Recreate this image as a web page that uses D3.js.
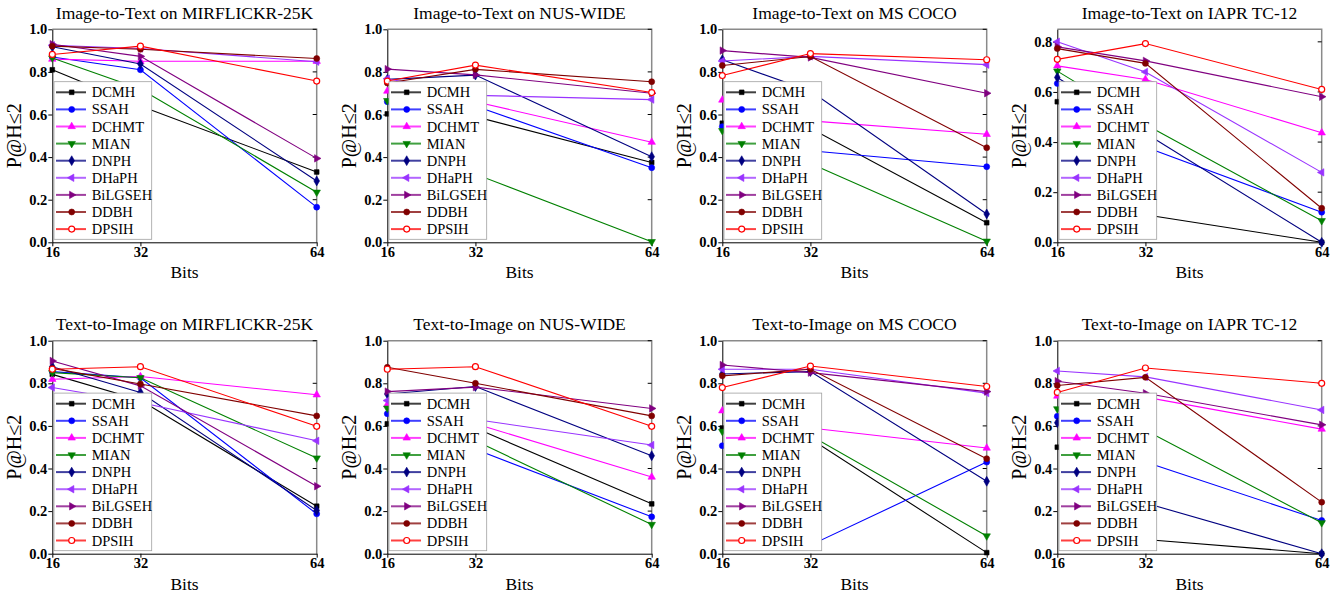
<!DOCTYPE html>
<html>
<head>
<meta charset="utf-8">
<script src="https://cdnjs.cloudflare.com/ajax/libs/d3/7.8.5/d3.min.js"></script>
<style>
  body { margin: 0; background: #fff; }
  svg { display: block; font-family: "Liberation Serif", "Times New Roman", serif; }
  .axis text { font-family: "Liberation Serif", serif; font-weight: bold; font-size: 14.5px; fill: #000; }
  .axis path, .axis line { stroke: #000; }
</style>
</head>
<body>
<svg id="chart" width="1340" height="597"></svg>
<script>
const bits = [16, 32, 64];
const methods = ["DCMH", "SSAH", "DCHMT", "MIAN", "DNPH", "DHaPH", "BiLGSEH", "DDBH", "DPSIH"];
const colors = ["#000000", "#0000ff", "#ff00ff", "#008000", "#000080", "#9933ff", "#800080", "#800000", "#ff0000"];
const yTicks = [0, 0.2, 0.4, 0.6, 0.8, 1.0];
const yTicksIapr = [0, 0.2, 0.4, 0.6, 0.8];

// P@H<=2 per method (rows follow methods, columns follow bits)
const i2tMirflickr = [
  [0.81, 0.64, 0.33], [0.87, 0.81, 0.165], [0.86, 0.85, 0.85], [0.865, 0.72, 0.235],
  [0.918, 0.837, 0.288], [0.925, 0.91, 0.848], [0.93, 0.873, 0.394], [0.921, 0.906, 0.863],
  [0.882, 0.921, 0.757]
];
const i2tNuswide = [
  [0.603, 0.59, 0.375], [0.66, 0.64, 0.35], [0.71, 0.66, 0.47], [0.665, 0.32, 0.003],
  [0.765, 0.785, 0.402], [0.768, 0.69, 0.67], [0.813, 0.786, 0.70], [0.748, 0.812, 0.754],
  [0.757, 0.832, 0.703]
];
const i2tCoco = [
  [0.559, 0.535, 0.092], [0.543, 0.43, 0.355], [0.668, 0.57, 0.507], [0.524, 0.37, 0.005],
  [0.857, 0.71, 0.133], [0.851, 0.873, 0.834], [0.90, 0.868, 0.70], [0.83, 0.872, 0.444],
  [0.783, 0.886, 0.857]
];
const i2tIapr = [
  [0.561, 0.11, 0.0], [0.634, 0.38, 0.12], [0.704, 0.65, 0.437], [0.683, 0.47, 0.086],
  [0.658, 0.435, 0.0], [0.80, 0.68, 0.279], [0.78, 0.724, 0.581], [0.773, 0.714, 0.136],
  [0.73, 0.793, 0.61]
];
const t2iMirflickr = [
  [0.842, 0.72, 0.223], [0.855, 0.826, 0.187], [0.819, 0.832, 0.746], [0.85, 0.826, 0.449],
  [0.878, 0.757, 0.203], [0.78, 0.71, 0.53], [0.905, 0.788, 0.317], [0.87, 0.797, 0.647],
  [0.866, 0.878, 0.598]
];
const t2iNuswide = [
  [0.61, 0.59, 0.234], [0.657, 0.49, 0.173], [0.70, 0.61, 0.36], [0.683, 0.53, 0.137],
  [0.75, 0.785, 0.46], [0.719, 0.63, 0.51], [0.761, 0.782, 0.682], [0.875, 0.80, 0.647],
  [0.866, 0.878, 0.598]
];
const t2iCoco = [
  [0.59, 0.54, 0.005], [0.507, 0.04, 0.43], [0.671, 0.59, 0.496], [0.574, 0.555, 0.083],
  [0.844, 0.855, 0.34], [0.866, 0.866, 0.754], [0.886, 0.85, 0.761], [0.835, 0.866, 0.446],
  [0.78, 0.881, 0.785]
];
const t2iIapr = [
  [0.5, 0.067, 0.0], [0.645, 0.43, 0.156], [0.74, 0.735, 0.585], [0.68, 0.58, 0.145],
  [0.615, 0.238, 0.0], [0.858, 0.83, 0.675], [0.81, 0.753, 0.605], [0.79, 0.828, 0.242],
  [0.757, 0.872, 0.80]
];

const titles = [
  "Image-to-Text on MIRFLICKR-25K", "Image-to-Text on NUS-WIDE", "Image-to-Text on MS COCO", "Image-to-Text on IAPR TC-12",
  "Text-to-Image on MIRFLICKR-25K", "Text-to-Image on NUS-WIDE", "Text-to-Image on MS COCO", "Text-to-Image on IAPR TC-12"
];
const panelData = [i2tMirflickr, i2tNuswide, i2tCoco, i2tIapr, t2iMirflickr, t2iNuswide, t2iCoco, t2iIapr];
const panelMax = [1.0, 1.0, 1.0, 0.85, 1.0, 1.0, 1.0, 1.0];

// marker shape + rotation for each method
const markers = [
  [d3.symbolSquare, 0, 22], [d3.symbolCircle, 0, 28], [d3.symbolTriangle, 0, 24],
  [d3.symbolTriangle, 180, 24], [d3.symbolDiamond, 0, 28], [d3.symbolTriangle, -90, 24],
  [d3.symbolTriangle, 90, 24], [d3.symbolCircle, 0, 28], [d3.symbolCircle, 0, 28]
];

const svg = d3.select("#chart");
const W = 264.4, H = 213;

panelData.forEach((data, i) => {
  drawPanel(i % 4, Math.floor(i / 4), titles[i], data, panelMax[i], panelMax[i] < 1 ? yTicksIapr : yTicks);
});

function addMarker(sel, m, px, py, color, hollow) {
  sel.append("path")
    .attr("d", d3.symbol().type(markers[m][0]).size(markers[m][2])())
    .attr("transform", `translate(${px},${py}) rotate(${markers[m][1]})`)
    .attr("fill", hollow ? "#fff" : color)
    .attr("stroke", color)
    .attr("stroke-width", hollow ? 1.2 : 0.6);
}

function drawPanel(col, row, title, data, ymax, ticks) {
  let left = 52.3 + col * 335;
  let top = 29.3 + row * 311.4;
  let g = svg.append("g").attr("transform", `translate(${left},${top})`);

  let x = d3.scaleLinear().domain([16, 64]).range([0, W]);
  let y = d3.scaleLinear().domain([0, ymax]).range([H, 0]);

  // grey top/right frame with inner ticks
  g.append("path")
    .attr("d", `M0,0H${W}V${H}`)
    .attr("fill", "none")
    .attr("stroke", "#8a8a8a")
    .attr("stroke-width", 1.5);
  g.selectAll(".rtick").data(ticks.slice(1)).join("line")
    .attr("x1", W).attr("x2", W - 4)
    .attr("y1", d => y(d)).attr("y2", d => y(d))
    .attr("stroke", "#000");

  g.append("g").attr("class", "axis")
    .attr("transform", `translate(0,${H})`)
    .call(d3.axisBottom(x).tickValues(bits).tickSize(4).tickSizeOuter(0).tickPadding(0).tickFormat(d3.format("d")));
  g.append("g").attr("class", "axis")
    .call(d3.axisLeft(y).tickValues(ticks).tickSize(4).tickSizeOuter(0).tickPadding(1).tickFormat(d3.format(".1f")));

  let line = d3.line()
    .x((d, i) => x(bits[i]))
    .y(d => y(d));

  data.forEach((vals, m) => {
    g.append("path")
      .datum(vals)
      .attr("d", line)
      .attr("fill", "none")
      .attr("stroke", colors[m])
      .attr("stroke-width", 1.1);
    vals.forEach((v, i) => addMarker(g, m, x(bits[i]), y(v), colors[m], m == 8));
  });

  // legend
  let lg = g.append("g");
  lg.append("rect")
    .attr("x", 1.7).attr("y", 52.4)
    .attr("width", 97.7).attr("height", 157.6)
    .attr("fill", "#fff")
    .attr("stroke", "#a0a0a0")
    .attr("stroke-width", 0.8);
  methods.forEach((name, m) => {
    let ly = 63 + m * 17.1;
    lg.append("line")
      .attr("x1", 3.7).attr("x2", 33.7)
      .attr("y1", ly).attr("y2", ly)
      .attr("stroke", colors[m])
      .attr("stroke-opacity", 0.75)
      .attr("stroke-width", 2);
    addMarker(lg, m, 19.4, ly, colors[m], m == 8);
    lg.append("text")
      .attr("x", 39.4).attr("y", ly)
      .attr("dy", "0.35em")
      .attr("font-size", "14.5px")
      .text(name);
  });

  g.append("text")
    .attr("x", W / 2).attr("y", -10.3)
    .attr("text-anchor", "middle")
    .attr("font-size", "17.5px")
    .text(title);

  g.append("text")
    .attr("x", W / 2).attr("y", H + 36)
    .attr("text-anchor", "middle")
    .attr("font-size", "17.5px")
    .text("Bits");

  g.append("text")
    .attr("transform", `translate(-31,${H / 2}) rotate(-90)`)
    .attr("text-anchor", "middle")
    .attr("font-size", "20px")
    .text("P@H≤2");
}
</script>
</body>
</html>
